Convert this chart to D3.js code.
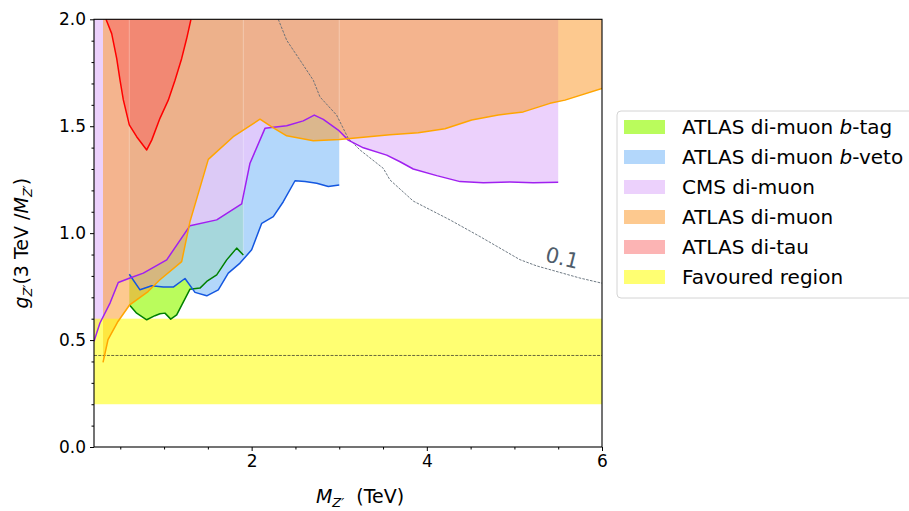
<!DOCTYPE html>
<html>
<head>
<meta charset="utf-8">
<script src="https://cdn.jsdelivr.net/npm/d3@7"></script>
<style>
  body { margin: 0; background: #fff; }
  svg { font-family: "DejaVu Sans", sans-serif; }
</style>
</head>
<body>
<svg id="chart" width="909" height="511"></svg>
<script>
// limits: [M_Z' (TeV), g_Z']
var btagLimit = [[0.603,0.665],[0.687,0.626],[0.802,0.595],[0.896,0.614],[0.953,0.623],[1.01,0.626],[1.076,0.598],[1.144,0.618],[1.296,0.738],[1.41,0.743],[1.487,0.774],[1.601,0.805],[1.715,0.875],[1.829,0.930],[1.905,0.898]];
var bvetoLimit = [[0.603,0.808],[0.725,0.735],[0.859,0.754],[0.991,0.748],[1.105,0.748],[1.239,0.788],[1.353,0.723],[1.487,0.707],[1.619,0.735],[1.733,0.813],[1.867,0.860],[2.0,0.922],[2.115,1.046],[2.247,1.077],[2.361,1.147],[2.495,1.245],[2.609,1.241],[2.743,1.233],[2.875,1.218],[3.0,1.225]];
var cmsLimit = [[0.2,0.494],[0.268,0.580],[0.383,0.673],[0.477,0.769],[0.611,0.790],[0.763,0.813],[1.03,0.875],[1.296,1.035],[1.601,1.062],[1.886,1.137],[1.981,1.327],[2.152,1.490],[2.40,1.502],[2.589,1.525],[2.715,1.552],[2.818,1.532],[2.989,1.482],[3.103,1.435],[3.275,1.399],[3.542,1.365],[3.694,1.334],[3.845,1.300],[4.113,1.269],[4.379,1.241],[4.645,1.236],[4.949,1.239],[5.215,1.236],[5.5,1.238]];
var atlasLimit = [[0.303,0.396],[0.36,0.502],[0.474,0.587],[0.608,0.665],[0.817,0.727],[0.953,0.782],[1.201,0.867],[1.296,1.054],[1.505,1.345],[1.790,1.451],[2.095,1.533],[2.229,1.497],[2.40,1.455],[2.704,1.432],[3.001,1.438],[3.123,1.443],[3.579,1.460],[3.902,1.469],[4.207,1.488],[4.512,1.529],[4.816,1.552],[5.101,1.567],[5.406,1.607],[5.577,1.622],[6.0,1.677]];
var ditauLimit = [[0.337,2.0],[0.402,1.933],[0.459,1.817],[0.497,1.716],[0.535,1.623],[0.603,1.506],[0.687,1.451],[0.802,1.389],[0.859,1.435],[0.953,1.537],[1.048,1.622],[1.125,1.715],[1.201,1.817],[1.258,1.910],[1.307,2.0]];
var contour01 = [[2.304,2.0],[2.40,1.902],[2.552,1.809],[2.704,1.715],[2.78,1.637],[2.97,1.552],[3.103,1.443],[3.237,1.389],[3.503,1.303],[3.579,1.249],[3.845,1.150],[4.264,1.062],[4.607,0.984],[5.063,0.876],[5.253,0.847],[5.748,0.790],[6.0,0.766]];
var favouredBand = [0.2, 0.6];
var favouredLine = 0.428;
var contourLabel = {text: "0.1", x: 5.34, y: 0.87};

var legendLabels = [
  ["ATLAS di-muon ", "b", "-tag"],
  ["ATLAS di-muon ", "b", "-veto"],
  ["CMS di-muon"],
  ["ATLAS di-muon"],
  ["ATLAS di-tau"],
  ["Favoured region"]
];

var xMajor = [2, 4, 6];
var xMinor = [0.5, 1, 1.5, 2.5, 3, 3.5, 4.5, 5, 5.5];
var yMajor = [0, 0.5, 1.0, 1.5, 2.0];
var yMinor = d3.range(1, 20).filter(function (i) { return i % 5 != 0; }).map(function (i) { return i / 10; });

var svg = d3.select("#chart"),
  margin = {top: 19.3, right: 307, bottom: 64, left: 94},
  width = 909 - margin.left - margin.right,
  height = 511 - margin.top - margin.bottom;

var x = d3.scaleLinear().domain([0.2, 6]).range([margin.left, margin.left + width]);
var y = d3.scaleLinear().domain([0, 2]).range([margin.top + height, margin.top]);

// fill styles: [colour, opacity, line colour]
var st = {
  btag: ["#bafc5c", 1, "#008000"],
  bveto: ["#a1cefa", 0.81, "#1457e0"],
  cms: ["#e8c7fb", 0.82, "#a020f0"],
  atlas: ["#fb9d33", 0.55, "#ffa500"],
  ditau: ["#f85555", 0.44, "#ff0000"],
  fav: ["#ffff00", 0.553]
};

svg.append("clipPath").attr("id", "clip")
  .append("rect").attr("x", margin.left).attr("y", margin.top).attr("width", width).attr("height", height);

var plot = svg.append("g").attr("clip-path", "url(#clip)");

var area = d3.area()
  .x(function (d) { return x(d[0]); })
  .y0(y(2.05))
  .y1(function (d) { return y(d[1]); });
var line = d3.line()
  .x(function (d) { return x(d[0]); })
  .y(function (d) { return y(d[1]); });

function fill(data, s) {
  plot.append("path").datum(data).attr("d", area)
    .attr("fill", s[0]).attr("fill-opacity", s[1]);
}
fill(btagLimit, st.btag);
fill(bvetoLimit, st.bveto);
fill(cmsLimit, st.cms);
fill(atlasLimit, st.atlas);
fill(ditauLimit, st.ditau);

// favoured region band
plot.append("rect")
  .attr("x", x(0.2)).attr("width", x(6) - x(0.2))
  .attr("y", y(favouredBand[1])).attr("height", y(favouredBand[0]) - y(favouredBand[1]))
  .attr("fill", st.fav[0]).attr("fill-opacity", st.fav[1]);

// faint seams at the edges of the b-tag / b-veto patches
var seams = [
  [bvetoLimit[0][0], bvetoLimit[0][1]],
  [btagLimit[btagLimit.length - 1][0], btagLimit[btagLimit.length - 1][1]],
  [bvetoLimit[bvetoLimit.length - 1][0], atlasLimit[10][1]]
];
plot.selectAll(".seam").data(seams).enter().append("line")
  .attr("x1", function (d) { return x(d[0]); }).attr("x2", function (d) { return x(d[0]); })
  .attr("y1", y(2)).attr("y2", function (d) { return y(d[1]); })
  .attr("stroke", "#fff").attr("stroke-opacity", 0.3).attr("stroke-width", 1);

plot.append("line")
  .attr("x1", x(0.2)).attr("x2", x(6))
  .attr("y1", y(favouredLine)).attr("y2", y(favouredLine))
  .attr("stroke", "#222").attr("stroke-opacity", 0.85).attr("stroke-width", 0.8)
  .attr("stroke-dasharray", "3,1.3");

plot.append("path").datum(contour01).attr("d", line)
  .attr("fill", "none").attr("stroke", "#5f6b76").attr("stroke-width", 0.9)
  .attr("stroke-dasharray", "2.6,1.3");

function edge(data, s) {
  plot.append("path").datum(data).attr("d", line)
    .attr("fill", "none").attr("stroke", s[2]).attr("stroke-width", 1.5)
    .attr("stroke-linejoin", "round");
}
edge(btagLimit, st.btag);
edge(bvetoLimit, st.bveto);
edge(cmsLimit, st.cms);
edge(atlasLimit, st.atlas);
edge(ditauLimit, st.ditau);

svg.append("text")
  .attr("transform", "translate(" + x(contourLabel.x) + "," + y(contourLabel.y) + ") rotate(14)")
  .attr("x", 0).attr("y", 0)
  .attr("font-size", 21).attr("fill", "#4f5d6b")
  .text(contourLabel.text);

// axes
var axB = svg.append("g").attr("transform", "translate(0," + (margin.top + height) + ")");
axB.call(d3.axisBottom(x).tickValues(xMajor).tickSize(4).tickSizeOuter(0).tickPadding(4).tickFormat(d3.format("d")));
axB.append("g").call(d3.axisBottom(x).tickValues(xMinor).tickSize(2.5).tickSizeOuter(0).tickFormat(""));
var axL = svg.append("g").attr("transform", "translate(" + margin.left + ",0)");
axL.call(d3.axisLeft(y).tickValues(yMajor).tickSize(4).tickSizeOuter(0).tickPadding(4).tickFormat(d3.format(".1f")));
axL.append("g").call(d3.axisLeft(y).tickValues(yMinor).tickSize(2.5).tickSizeOuter(0).tickFormat(""));
svg.selectAll(".domain").remove();
svg.selectAll(".tick text").attr("font-size", 17).attr("fill", "#000").attr("font-family", "DejaVu Sans");
svg.selectAll(".tick line").attr("stroke", "#000").attr("stroke-width", 1);

svg.append("rect")
  .attr("x", margin.left).attr("y", margin.top).attr("width", width).attr("height", height)
  .attr("fill", "none").attr("stroke", "#000").attr("stroke-width", 1.1);

// axis labels
var xl = svg.append("text").attr("x", margin.left + width / 2 + 12).attr("y", 503)
  .attr("text-anchor", "middle").attr("font-size", 19);
xl.append("tspan").attr("font-style", "italic").text("M");
xl.append("tspan").attr("font-style", "italic").attr("font-size", 13).attr("dy", 4).text("Z′");
xl.append("tspan").attr("dy", -4).text("\u00a0 (TeV)");

var yl = svg.append("text").attr("transform", "translate(28," + (margin.top + height / 2 + 10) + ") rotate(-90)")
  .attr("text-anchor", "middle").attr("font-size", 19);
yl.append("tspan").attr("font-style", "italic").text("g");
yl.append("tspan").attr("font-style", "italic").attr("font-size", 13).attr("dy", 4).text("Z′");
yl.append("tspan").attr("dy", -4).text("(3 TeV /");
yl.append("tspan").attr("font-style", "italic").text("M");
yl.append("tspan").attr("font-style", "italic").attr("font-size", 13).attr("dy", 4).text("Z′");
yl.append("tspan").attr("dy", -4).text(")");

// legend
var legendStyles = [st.btag, st.bveto, st.cms, st.atlas, st.ditau, st.fav];
var lg = svg.append("g").attr("transform", "translate(617,111)");
lg.append("rect").attr("x", 0).attr("y", 0).attr("width", 310).attr("height", 187)
  .attr("rx", 4).attr("fill", "#fff").attr("fill-opacity", 0.8)
  .attr("stroke", "#d4d4d4").attr("stroke-width", 1);
var rows = lg.selectAll(".row").data(legendLabels).enter().append("g")
  .attr("transform", function (d, i) { return "translate(0," + (16 + i * 30) + ")"; });
rows.append("rect").attr("x", 7).attr("y", -7).attr("width", 41).attr("height", 14)
  .attr("fill", function (d, i) { return legendStyles[i][0]; })
  .attr("fill-opacity", function (d, i) { return legendStyles[i][1]; });
var txt = rows.append("text").attr("x", 65).attr("y", 7).attr("font-size", 20);
txt.each(function (d) {
  var t = d3.select(this);
  d.forEach(function (part, j) {
    t.append("tspan").attr("font-style", j == 1 ? "italic" : null).text(part);
  });
});
</script>
</body>
</html>
